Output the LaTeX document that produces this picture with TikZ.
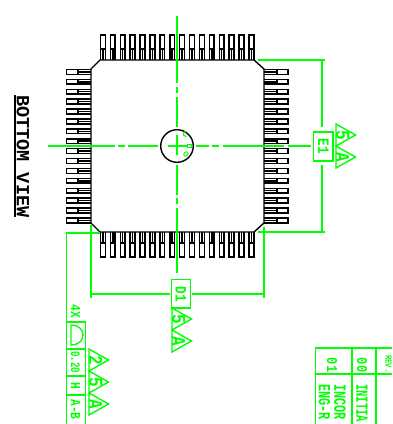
\documentclass[tikz,border=0pt]{standalone}
\usepackage{fontspec}
\setmainfont{Liberation Mono}
\definecolor{cadgreen}{RGB}{0,255,0}
\newcommand{\cadtxt}[3][0.8]{\fontsize{#2}{#2}\selectfont\textbf{\scalebox{#1}[1]{#3}}}
\tikzset{
  x=1pt,y=-1pt,
  body/.style={draw=black,line width=1.4pt,line join=miter},
  pin/.style={draw=black,line width=1.5pt},
  gl/.style={draw=cadgreen,line width=1.3pt},
  gt/.style={text=cadgreen,rotate=-90,inner sep=0pt},
}
\newcommand{\tri}[2]{\draw[gl,line width=1.4pt] (#1,#2) -- (#1+19.5,#2+11) -- (#1,#2+22) -- cycle;}
\begin{document}
\begin{tikzpicture}
\useasboundingbox (0,0) rectangle (392,424);
\clip (0,0) rectangle (392,424);
% pins
\foreach \i in {0,...,15}{
  \pgfmathsetmacro{\p}{\i*9.9}
  \draw[pin] (100.5+\p,60) -- (100.5+\p,35) -- (105.3+\p,35) -- (105.3+\p,60);
  \draw[pin] (100.5+\p,49) -- (105.3+\p,49) (102.9+\p,49) -- (102.9+\p,60);
  \draw[pin] (100.5+\p,232) -- (100.5+\p,257) -- (105.3+\p,257) -- (105.3+\p,232);
  \draw[pin] (100.5+\p,243) -- (105.3+\p,243) (102.9+\p,243) -- (102.9+\p,232);
  \draw[pin] (91,69.5+\p) -- (66.5,69.5+\p) -- (66.5,74.3+\p) -- (91,74.3+\p);
  \draw[pin] (78,69.5+\p) -- (78,74.3+\p) (78,71.9+\p) -- (91,71.9+\p);
  \draw[pin] (264,69.5+\p) -- (288,69.5+\p) -- (288,74.3+\p) -- (264,74.3+\p);
  \draw[pin] (277,69.5+\p) -- (277,74.3+\p) (277,71.9+\p) -- (264,71.9+\p);
}
% body
\draw[body] (100,60) -- (254,60) -- (264,69) -- (264,223) -- (254,232) -- (100,232) -- (91,223) -- (91,69) -- cycle;
% centre circle
\draw[black,line width=1.4pt] (177,146) circle (16.3);
% centre lines
\draw[gl] (177,16) -- (177,83) (177,87) -- (177,93) (177,97) -- (177,127)
  (177,135) -- (177,155) (177,165) -- (177,195) (177,198) -- (177,204) (177,208) -- (177,273);
\draw[gl] (48,146) -- (115,146) (118,146) -- (125,146) (128,146) -- (158,146)
  (168,146) -- (187,146) (196,146) -- (209,146) (212,146) -- (219,146) (223,146) -- (284,146) (288,146) -- (311,146);
% marks in circle
\draw[gl,line width=1pt] (187,136) arc (60:300:2.4);
\draw[gl,line width=1pt] (187.5,144.5) rectangle (191,147.5);
\draw[gl,line width=1pt,rotate around={45:(186,154)}] (186,154) ellipse (2.5 and 1.8);
% E1 dimension
\draw[gl] (258,60) -- (325,60) (258,232) -- (325,232);
\draw[gl] (322,60) -- (322,127) (322,165) -- (322,232);
\draw[gl] (313.5,132) rectangle (333,161);
\node[gt] (e1) at (323.5,146.5) {\cadtxt{16}{E1}};
\tri{336}{124} \tri{336}{146}
\node[gt] (e5) at (342.5,135) {\cadtxt{20}{5}};
\node[gt] (ea) at (342.5,157) {\cadtxt{20}{A}};
% D1 dimension
\draw[gl] (91,225) -- (91,298) (264,227) -- (264,298);
\draw[gl] (91,294) -- (170,294) (192,294) -- (264,294);
\draw[gl] (171.5,279.5) rectangle (190.5,308);
\node[gt] (d1) at (181,294) {\cadtxt{16}{D1}};
\tri{172}{308} \tri{172}{330}
\node[gt] (d5) at (178.5,319) {\cadtxt{20}{5}};
\node[gt] (da) at (178.5,341) {\cadtxt{20}{A}};
% flatness frame
\draw[gl] (100,233) -- (66.7,233) -- (66.7,424);
\draw[gl] (66.7,322) -- (85.5,322) -- (85.5,424);
\draw[gl] (66.7,349) -- (85.5,349) (66.7,376) -- (85.5,376) (66.7,395) -- (85.5,395);
\draw[gl] (71,325) -- (71,345) .. controls (87,345) and (87,325) .. (71,325);
\node[gt] (fx) at (75.5,311.5) {\cadtxt{14}{4X}};
\node[gt] (fv) at (75.5,362) {\cadtxt[0.7]{13}{0.20}};
\node[gt] (fh) at (75.5,386) {\cadtxt{14}{H}};
\node[gt] (fd) at (75.5,409.5) {\cadtxt{14}{A-B}};
\tri{89}{349} \tri{89}{371} \tri{89}{393}
\node[gt] (f2) at (95.5,360) {\cadtxt{20}{2}};
\node[gt] (f5) at (95.5,382) {\cadtxt{20}{5}};
\node[gt] (fa) at (95.5,404) {\cadtxt{20}{A}};
% revision table
\draw[gl] (392,348) -- (315.5,348) -- (315.5,424) (352,348) -- (352,424) (376,348) -- (376,424);
\draw[gl] (315.5,374) -- (392,374);
\node[gt] (r1) at (332,365) {\cadtxt{15}{01}};
\node[gt] (r0) at (362,365) {\cadtxt{15}{00}};
\node[gt,anchor=west] (rv) at (388.5,355) {\cadtxt{9}{REV.}};
\node[gt,anchor=west] (t1) at (340,384) {\cadtxt[0.7]{17}{INCOR}};
\node[gt,anchor=west] (t2) at (324.5,384) {\cadtxt[0.7]{17}{ENG-R}};
\node[gt,anchor=west] (t3) at (362,384) {\cadtxt[0.62]{17}{INITIA}};
% title
\node[text=black,rotate=-90,inner sep=0pt,anchor=west] (bv) at (23,95) {\cadtxt[1.0]{18.5}{BOTTOM VIEW}};
\draw[black,line width=1.3pt] (15,95) -- (15,217);
\end{tikzpicture}
\end{document}
